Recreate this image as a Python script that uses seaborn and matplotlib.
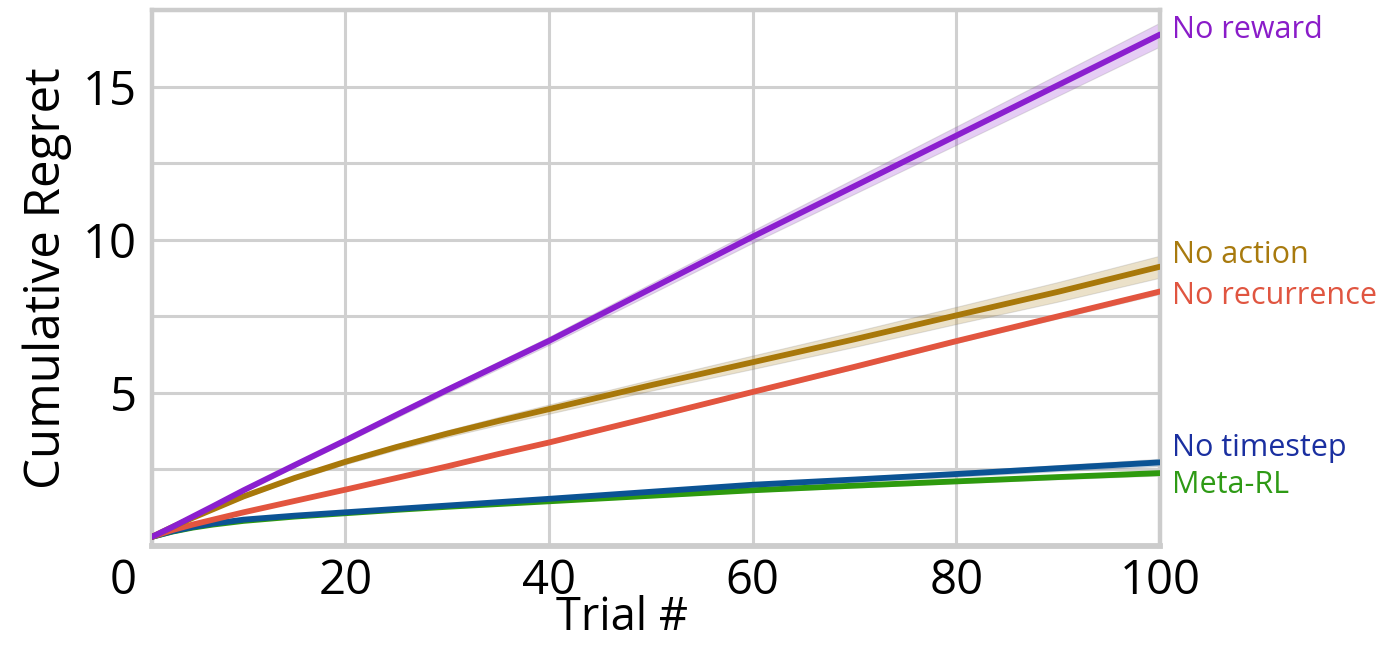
import numpy as np
import pandas as pd
import matplotlib
matplotlib.use("Agg")
import matplotlib.pyplot as plt
import seaborn as sns

# Trial numbers at which the mean cumulative regret is sampled
trials = [1, 3, 5, 7, 10, 15, 20, 25, 30, 35, 40, 50, 60, 70, 80, 90, 100]

# Mean cumulative regret per agent variant
no_reward = [0.30, 0.62, 0.96, 1.30, 1.82, 2.64, 3.45, 4.28, 5.10, 5.90, 6.70, 8.40, 10.10, 11.75, 13.40, 15.05, 16.70]
no_action = [0.30, 0.62, 0.92, 1.20, 1.62, 2.22, 2.75, 3.23, 3.67, 4.08, 4.47, 5.25, 6.00, 6.75, 7.53, 8.30, 9.12]
no_recurrence = [0.30, 0.52, 0.70, 0.86, 1.10, 1.47, 1.84, 2.22, 2.60, 3.00, 3.38, 4.20, 5.03, 5.85, 6.69, 7.50, 8.31]
no_timestep = [0.30, 0.48, 0.62, 0.73, 0.86, 0.99, 1.10, 1.21, 1.32, 1.43, 1.54, 1.77, 2.00, 2.17, 2.35, 2.54, 2.73]
meta_rl = [0.30, 0.47, 0.60, 0.70, 0.82, 0.96, 1.07, 1.18, 1.28, 1.37, 1.46, 1.64, 1.82, 1.97, 2.11, 2.25, 2.38]

# Half-width of the shaded confidence band
no_reward_ci = [0.02, 0.02, 0.03, 0.04, 0.05, 0.06, 0.07, 0.09, 0.10, 0.12, 0.13, 0.17, 0.20, 0.25, 0.30, 0.35, 0.39]
no_action_ci = [0.02, 0.02, 0.03, 0.04, 0.05, 0.06, 0.08, 0.09, 0.11, 0.13, 0.15, 0.18, 0.22, 0.25, 0.28, 0.32, 0.36]
no_recurrence_ci = [0.01, 0.01, 0.02, 0.02, 0.02, 0.03, 0.03, 0.03, 0.04, 0.04, 0.04, 0.05, 0.05, 0.06, 0.06, 0.07, 0.08]
no_timestep_ci = [0.01, 0.01, 0.02, 0.02, 0.02, 0.03, 0.03, 0.04, 0.04, 0.05, 0.05, 0.06, 0.07, 0.08, 0.09, 0.10, 0.12]
meta_rl_ci = [0.01, 0.01, 0.01, 0.02, 0.02, 0.02, 0.03, 0.03, 0.03, 0.04, 0.04, 0.05, 0.05, 0.06, 0.06, 0.07, 0.08]

agents = ["Meta-RL", "No timestep", "No recurrence", "No action", "No reward"]
means = [meta_rl, no_timestep, no_recurrence, no_action, no_reward]
cis = [meta_rl_ci, no_timestep_ci, no_recurrence_ci, no_action_ci, no_reward_ci]

line_colors = {
    "Meta-RL": "#2e9a0e",
    "No timestep": "#0b5394",
    "No recurrence": "#e2553f",
    "No action": "#a8780a",
    "No reward": "#8b1fcf",
}
text_colors = {
    "Meta-RL": "#2e9a15",
    "No timestep": "#1a2fa0",
    "No recurrence": "#e05540",
    "No action": "#a87a0e",
    "No reward": "#8a1cc9",
}
# Vertical placement of the end-of-line labels (data units)
label_y = {
    "No reward": 16.85,
    "No action": 9.51,
    "No recurrence": 8.15,
    "No timestep": 3.21,
    "Meta-RL": 1.98,
}

df = pd.concat(
    [pd.DataFrame({"Trial": trials, "Regret": m, "lo": np.subtract(m, c),
                   "hi": np.add(m, c), "Agent": a})
     for a, m, c in zip(agents, means, cis)],
    ignore_index=True,
)

sns.set_style("whitegrid")
plt.rcParams["font.family"] = ["Open Sans", "DejaVu Sans"]
plt.rcParams["text.color"] = "black"
plt.rcParams["axes.labelcolor"] = "black"

fig = plt.figure(figsize=(13.82, 6.45), dpi=100)
ax = fig.add_axes([0.110, 0.1535, 0.7294, 0.831])

for a in agents:
    sub = df[df["Agent"] == a]
    ax.fill_between(sub["Trial"], sub["lo"], sub["hi"], color=line_colors[a],
                    alpha=0.22, linewidth=0.8, edgecolor=(0.5, 0.5, 0.5, 0.25), zorder=2)

sns.lineplot(data=df, x="Trial", y="Regret", hue="Agent", hue_order=agents,
             palette=line_colors, errorbar=None, legend=False, linewidth=4.2,
             ax=ax, zorder=3)

ax.set_xlim(1, 100)
ax.set_ylim(0, 17.5)

ax.set_xticks([20, 40, 60, 80, 100])
yt = np.arange(0, 17.6, 2.5)
ax.set_yticks(yt)
ax.set_yticklabels(["" if (v == 0 or v % 5) else f"{int(v)}" for v in yt])

ax.grid(True, color="#d0d0d0", linewidth=2.2)
ax.set_axisbelow(True)
for s in ax.spines.values():
    s.set_visible(True)
    s.set_color("#cccccc")
    s.set_linewidth(3.2)
ax.spines["bottom"].set_linewidth(4.2)

ax.tick_params(axis="both", length=0, labelsize=34, colors="black")
ax.tick_params(axis="y", pad=11)
ax.tick_params(axis="x", pad=8)

# origin label sits left of the spine, on the x tick-label row
ax.annotate("0", xy=(0, 0), xycoords="axes fraction", xytext=(-21, -8),
            textcoords="offset points", ha="center", va="top", fontsize=34,
            color="black")

ax.set_xlabel("Trial #", fontsize=32.5, labelpad=-7)
ax.xaxis.label.set_x(0.466)
ax.set_ylabel("Cumulative Regret", fontsize=35.5, labelpad=8)

for a in agents:
    ax.text(101.2, label_y[a], a, color=text_colors[a], fontsize=22,
            ha="left", va="center", clip_on=False)

fig.savefig("out.png", dpi=100)
